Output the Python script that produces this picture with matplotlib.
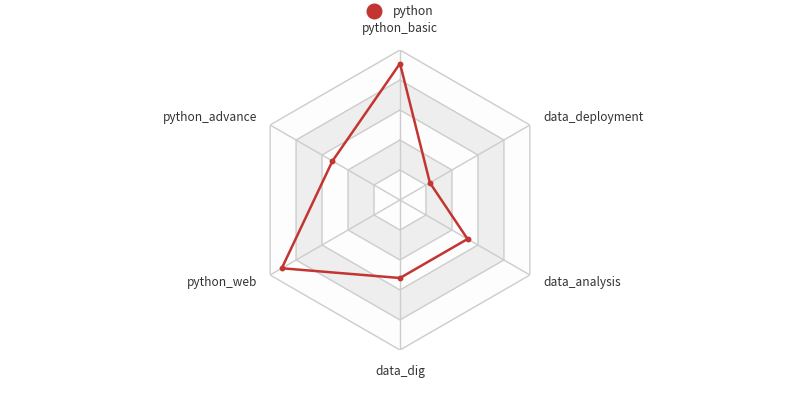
import numpy as np
import matplotlib
matplotlib.use("Agg")
import matplotlib.pyplot as plt
from matplotlib.lines import Line2D

plt.rcParams['font.family'] = ['Noto Sans CJK SC', 'DejaVu Sans']

# indicators, counter-clockwise starting from the top
indicators = ['python_basic', 'python_advance', 'python_web',
              'data_dig', 'data_analysis', 'data_deployment']
values = [91, 52, 91, 52, 52, 23]
max_value = 100
levels = [20, 40, 60, 80, 100]
series_name = 'python'

red = '#c23531'
grid_col = '#cccccc'

fig = plt.figure(figsize=(8, 4), dpi=100)
ax = fig.add_axes([250/800, 50/400, 300/800, 300/400], projection='polar')
ax.set_theta_offset(np.pi / 2)
ax.set_ylim(0, max_value)
ax.set_xticks([])
ax.set_yticks([])
ax.grid(False)
ax.spines['polar'].set_visible(False)
ax.patch.set_alpha(0)

n = len(indicators)
theta = np.arange(n) * 2 * np.pi / n
theta_closed = np.append(theta, theta[0])

# split areas, drawn outer to inner
fills = ['#fdfdfd', '#eeeeee']
for i, lv in enumerate(reversed(levels)):
    ax.fill(theta_closed, [lv] * (n + 1), color=fills[i % 2], lw=0, zorder=1 + i * 0.01)
# split lines
for lv in levels:
    ax.plot(theta_closed, [lv] * (n + 1), color=grid_col, lw=1, zorder=2)
# axis spokes
for t in theta:
    ax.plot([t, t], [0, max_value], color=grid_col, lw=1, zorder=2)

# data
vals = values + values[:1]
ax.plot(theta_closed, vals, color=red, lw=1.8, zorder=3, solid_joinstyle='round')
ax.plot(theta, values, 'o', color=red, ms=3.2, zorder=4)

# indicator names
lab_r = max_value * 165 / 150
for t, name in zip(theta, indicators):
    deg = np.degrees(t) % 360
    if deg < 1 or deg > 359:
        ha, va = 'center', 'bottom'
    elif abs(deg - 180) < 1:
        ha, va = 'center', 'top'
    elif deg < 180:
        ha, va = 'right', 'center'
    else:
        ha, va = 'left', 'center'
    ax.text(t, lab_r, name, ha=ha, va=va, fontsize=8.6, color='#333333', clip_on=False)

handle = Line2D([], [], marker='o', ls='none', color=red, markersize=10.5)
fig.legend([handle], [series_name], loc='center', bbox_to_anchor=(398/800, 1 - 12/400),
           frameon=False, fontsize=8.8, handletextpad=0.55, labelcolor='#333333')

fig.savefig('out.png', dpi=100)
